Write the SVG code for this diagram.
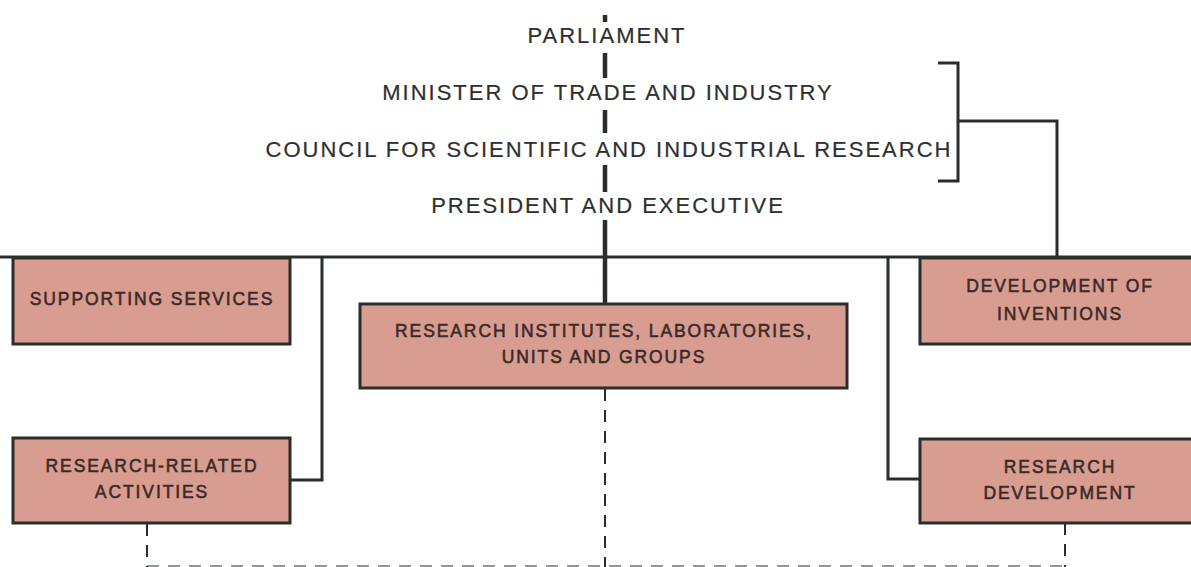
<svg xmlns="http://www.w3.org/2000/svg" width="1191" height="567" viewBox="0 0 1191 567">
  <style>
    .hdr { font-family: "Liberation Sans", Arial, sans-serif; font-size: 22px; letter-spacing: 2px; fill: #2e302e; stroke: #2e302e; stroke-width: 0.2; text-anchor: middle; }
    .box { fill: #d99c91; stroke: #2a2e2a; stroke-width: 3; }
    .lbl { font-family: "Liberation Sans", Arial, sans-serif; font-size: 17.5px; letter-spacing: 1.9px; fill: #3a2b26; stroke: #3a2b26; stroke-width: 0.55; text-anchor: middle; }
    .ln { fill: none; stroke: #2a2e2a; stroke-width: 3; }
    .spine { fill: none; stroke: #2a2e2a; stroke-width: 4.5; }
    .dash { fill: none; stroke: #2a2e2a; stroke-width: 2; stroke-dasharray: 12 9; }
  </style>

  <!-- hierarchy headings -->
  <g id="parliament"><text class="hdr" x="607" y="43">PARLIAMENT</text></g>
  <g id="minister"><text class="hdr" x="608" y="100">MINISTER OF TRADE AND INDUSTRY</text></g>
  <g id="council"><text class="hdr" x="609" y="157">COUNCIL FOR SCIENTIFIC AND INDUSTRIAL RESEARCH</text></g>
  <g id="president"><text class="hdr" x="608" y="213">PRESIDENT AND EXECUTIVE</text></g>

  <!-- connectors -->
  <g id="connectors">
    <!-- broken vertical spine between headings -->
    <path class="spine" d="M605 15V22 M605 53V78 M605 110V133 M605 165V192 M605 220V304"/>
    <!-- bracket round minister and council -->
    <path class="ln" d="M938 63H958V181H938 M958 121H1057V257"/>
    <!-- main horizontal bar -->
    <path class="ln" d="M0 257H1191"/>
    <!-- side feeds to lower boxes -->
    <path class="ln" d="M322 257V480H290"/>
    <path class="ln" d="M888 257V479H920"/>
    <!-- dashed links at the foot -->
    <path class="dash" d="M147 524V567"/>
    <path class="dash" d="M605 389V567"/>
    <path class="dash" d="M1065 523V567"/>
    <path class="dash" d="M147 566H1065" stroke-opacity="0.5"/>
  </g>

  <!-- units -->
  <g id="supporting-services">
    <rect class="box" x="13" y="258" width="277" height="86"/>
    <text class="lbl" x="152" y="305">SUPPORTING SERVICES</text>
  </g>
  <g id="research-institutes">
    <rect class="box" x="360" y="304" width="487" height="84"/>
    <text class="lbl" x="604" y="337">RESEARCH INSTITUTES, LABORATORIES,</text>
    <text class="lbl" x="604" y="363">UNITS AND GROUPS</text>
  </g>
  <g id="development-of-inventions">
    <rect class="box" x="920" y="258" width="300" height="86"/>
    <text class="lbl" x="1060" y="292">DEVELOPMENT OF</text>
    <text class="lbl" x="1060" y="320">INVENTIONS</text>
  </g>
  <g id="research-related-activities">
    <rect class="box" x="13" y="438" width="277" height="85"/>
    <text class="lbl" x="152" y="472">RESEARCH-RELATED</text>
    <text class="lbl" x="152" y="498">ACTIVITIES</text>
  </g>
  <g id="research-development">
    <rect class="box" x="920" y="439" width="300" height="84"/>
    <text class="lbl" x="1060" y="473">RESEARCH</text>
    <text class="lbl" x="1060" y="499">DEVELOPMENT</text>
  </g>
</svg>
